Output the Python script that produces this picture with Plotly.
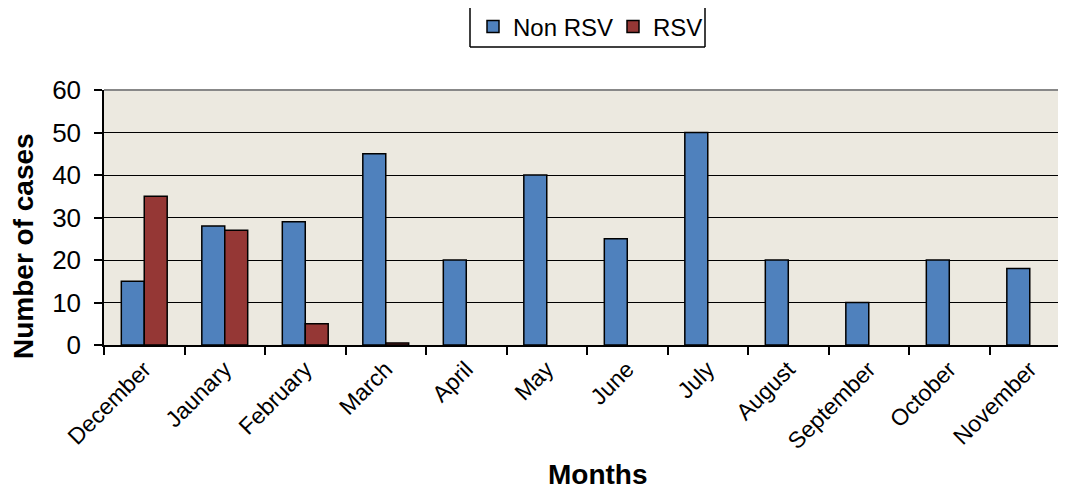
import plotly.graph_objects as go

months = ["December", "Jaunary", "February", "March", "April", "May", "June",
          "July", "August", "September", "October", "November"]
non_rsv = [15, 28, 29, 45, 20, 40, 25, 50, 20, 10, 20, 18]
rsv = [35, 27, 5, 0.5, 0, 0, 0, 0, 0, 0, 0, 0]
y_ticks = [0, 10, 20, 30, 40, 50, 60]

FONT = "Liberation Sans, Arial, sans-serif"


def outline(vals):
    return [1.5 if v > 0 else 0 for v in vals]


fig = go.Figure()
fig.add_trace(go.Bar(name="Non RSV", x=months, y=non_rsv,
                     marker=dict(color="#4F81BD",
                                 line=dict(color="black", width=outline(non_rsv)))))
fig.add_trace(go.Bar(name="RSV", x=months, y=rsv,
                     marker=dict(color="#953735",
                                 line=dict(color="black", width=outline(rsv)))))

# page body has an 8px margin, so the figure is laid out 8px smaller
OFF = 8
W, H = 1066 - OFF, 489 - OFF
L, T = 104 - OFF, 90 - OFF
plot_bottom = 345 - OFF
B = H - plot_bottom
R = 0
pw = W - L - R
ph = H - T - B


def px(sx):
    return (sx - OFF - L) / pw


def py(sy):
    return (plot_bottom - (sy - OFF)) / ph


fig.update_layout(
    width=W, height=H,
    margin=dict(l=L, r=R, t=T, b=B, autoexpand=False),
    paper_bgcolor="white",
    plot_bgcolor="#ECE9E0",
    barmode="group", bargap=0.43, bargroupgap=0,
    font=dict(family=FONT, color="black"),
    showlegend=True,
    legend=dict(orientation="h", xref="paper", yref="paper",
                x=px(473), xanchor="left", y=py(27), yanchor="middle",
                font=dict(size=24, family=FONT), bgcolor="rgba(0,0,0,0)",
                itemwidth=30, traceorder="normal",
                entrywidth=95, entrywidthmode="pixels"),
    xaxis=dict(type="category", range=[-0.5, 11.45], tickson="boundaries",
               ticks="outside", ticklen=8, tickwidth=1.5, tickcolor="black",
               showline=True, linecolor="black", linewidth=1.5,
               showgrid=False, tickangle=-45,
               tickfont=dict(size=23, family=FONT)),
    yaxis=dict(range=[0, 60], tickvals=y_ticks, ticks="outside", ticklen=8,
               tickwidth=1.5, tickcolor="black", showline=True, linecolor="black",
               linewidth=1.5, showgrid=True, gridcolor="black", gridwidth=1.3,
               tickfont=dict(size=26, family=FONT), ticklabelstandoff=8,
               zeroline=False),
)

# top border of plot area (grey)
fig.add_shape(type="line", xref="paper", yref="paper", x0=0, x1=1, y0=1, y1=1,
              line=dict(color="#888888", width=2))

# legend box border (top cut off in the original)
lx0, lx1 = px(470), px(705)
ly_bottom, ly_top = py(47), py(-10)
for seg in [(lx0, ly_bottom, lx0, ly_top), (lx1, ly_bottom, lx1, ly_top),
            (lx0, ly_bottom, lx1, ly_bottom)]:
    fig.add_shape(type="line", xref="paper", yref="paper",
                  x0=seg[0], y0=seg[1], x1=seg[2], y1=seg[3],
                  line=dict(color="black", width=1.5))

# axis titles
fig.add_annotation(text="<b>Months</b>", xref="paper", yref="paper",
                   x=px(598), y=py(474), xanchor="center", yanchor="middle",
                   showarrow=False, font=dict(size=28, family=FONT))
fig.add_annotation(text="<b>Number of cases</b>", xref="paper", yref="paper",
                   x=px(23), y=py(246), xanchor="center", yanchor="middle",
                   textangle=-90, showarrow=False, font=dict(size=28, family=FONT))

fig.write_html("out.html")
